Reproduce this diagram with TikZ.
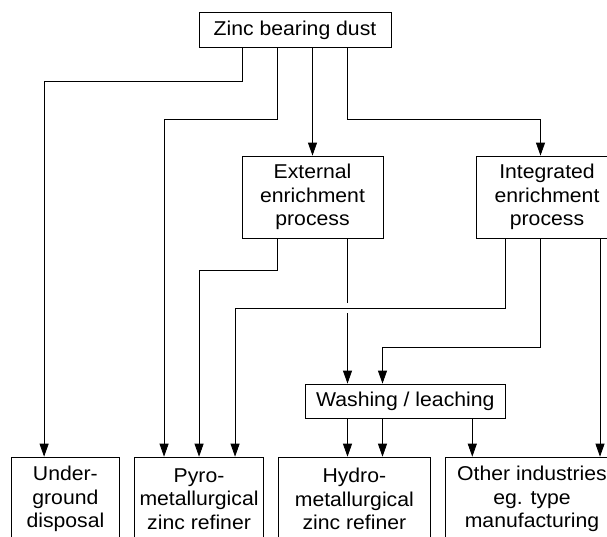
\documentclass[tikz,border=0pt]{standalone}
\usepackage{fontspec}
\setmainfont{Liberation Sans}[FakeStretch=1.06]
\usepackage{tikz}
\usetikzlibrary{arrows.meta,chains,positioning}
\tikzstyle{box}=[rectangle, draw=black, line width=0.8pt, align=center, inner sep=0pt,
        font=\fontsize{20}{23.3}\selectfont]
\tikzstyle{stage}=[box, minimum width=141pt, minimum height=82pt]
\tikzstyle{sink}=[box, minimum height=84pt]
\tikzstyle{flow}=[draw=black, line width=0.8pt]
\tikzstyle{arr}=[flow, -{Triangle[length=13pt,width=9pt]}]

\begin{document}
\begin{tikzpicture}[x=1pt, y=-1pt, start chain=1 going right, node distance=14pt]
\useasboundingbox (0,0) rectangle (607,536);
\clip (0,0) rectangle (607,536);
\node [box, minimum width=192pt, minimum height=34.6pt] (zinc) at (295,30) {Zinc bearing dust};
\node [stage] (ext) at (312.5,197) {External\\enrichment\\process};
\node [stage] (integ) at (547,197) {Integrated\\enrichment\\process};
\node [box, minimum width=200pt, minimum height=34pt] (wash) at (405.3,401) {Washing / leaching};
\node [sink, on chain=1, minimum width=108.4pt, anchor=north west] (under) at (10.8,456.7) {Under-\\ground\\disposal};
\node [sink, on chain=1, minimum width=129.3pt] (pyro) {Pyro-\\metallurgical\\zinc refiner};
\node [sink, on chain=1, minimum width=151.7pt] (hydro) {Hydro-\\metallurgical\\zinc refiner};
\node [sink, on chain=1, minimum width=174pt] (other) {Other industries\\eg. type\\manufacturing};

% from the dust
\draw [arr] ([xshift=-52.5pt]zinc.south) -- ++(0,33.7) -| ([xshift=-21.3pt]under.north);
\draw [arr] ([xshift=-17.5pt]zinc.south) -- ++(0,71.7) -| ([xshift=-35pt]pyro.north);
\draw [arr] (zinc.south -| ext.north) -- (ext.north);
\draw [arr] ([xshift=52.5pt]zinc.south) -- ++(0,71.7) -| ([xshift=-6.5pt]integ.north);

% external enrichment
\draw [arr] ([xshift=-35pt]ext.south) -- ++(0,32) -| (pyro.north);
\draw [flow] ([xshift=35pt]ext.south) -- ++(0,65) coordinate (jump);
\draw [arr] ([yshift=-10pt]jump) -- (jump |- wash.north);

% integrated enrichment
\draw [arr] ([xshift=-41.5pt]integ.south) -- ++(0,69.7) -| ([xshift=36pt]pyro.north);
\draw [arr] ([xshift=-6.5pt]integ.south) -- ++(0,108.7) -| ([xshift=-22.8pt]wash.north) coordinate (lane);
\draw [arr] ([xshift=53pt]integ.south) coordinate (edge) -- (edge |- other.north);

% washing / leaching
\draw [arr] (jump |- wash.south) -- (jump |- hydro.north);
\draw [arr] (lane |- wash.south) -- (lane |- hydro.north);
\draw [arr] ([xshift=67pt]wash.south) coordinate (side) -- (side |- other.north);
\end{tikzpicture}
\end{document}
